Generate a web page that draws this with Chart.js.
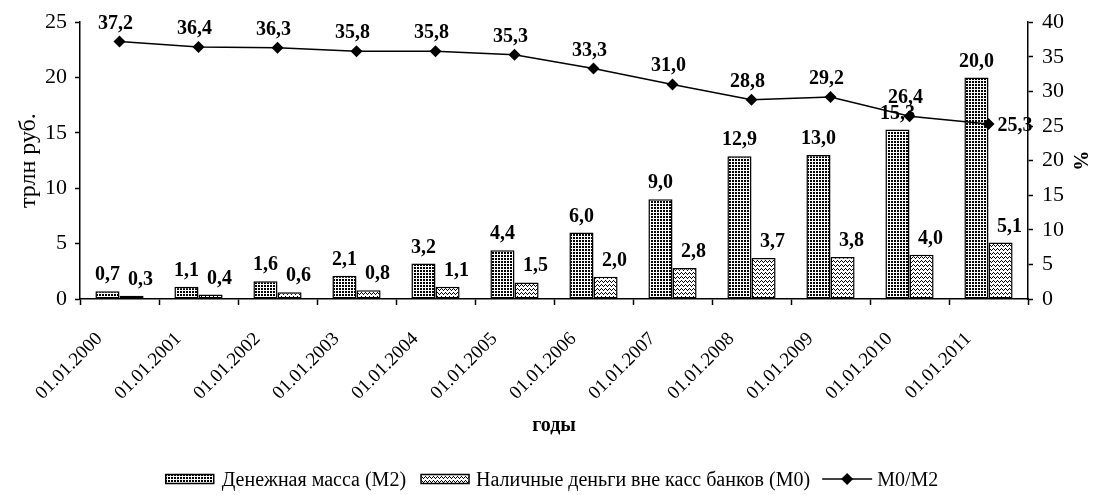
<!DOCTYPE html>
<html lang="ru">
<head>
<meta charset="utf-8">
<title>Денежная масса</title>
<script src="https://cdn.jsdelivr.net/npm/chart.js@4/dist/chart.umd.min.js"></script>
<style>
  html, body { margin: 0; padding: 0; background: #fff; }
  #wrap { width: 1095px; height: 495px; }
</style>
</head>
<body>
<div id="wrap"><canvas id="moneyChart" width="1095" height="495"></canvas></div>
<script>
// data
const years = [
  "01.01.2000", "01.01.2001", "01.01.2002", "01.01.2003",
  "01.01.2004", "01.01.2005", "01.01.2006", "01.01.2007",
  "01.01.2008", "01.01.2009", "01.01.2010", "01.01.2011",
];
const m2 = [0.7, 1.1, 1.6, 2.1, 3.2, 4.4, 6.0, 9.0, 12.9, 13.0, 15.3, 20.0];
const m0 = [0.3, 0.4, 0.6, 0.8, 1.1, 1.5, 2.0, 2.8, 3.7, 3.8, 4.0, 5.1];
const m0Share = [37.2, 36.4, 36.3, 35.8, 35.8, 35.3, 33.3, 31.0, 28.8, 29.2, 26.4, 25.3];
const leftTicks = [0, 5, 10, 15, 20, 25];
const rightTicks = [0, 5, 10, 15, 20, 25, 30, 35, 40];

const seriesNames = ["Денежная масса (M2)", "Наличные деньги вне касс банков (M0)", "M0/M2"];

const SERIF = '"Liberation Serif", "Times New Roman", serif';
Chart.defaults.font.family = SERIF;
Chart.defaults.color = "#000";

const canvas = document.getElementById("moneyChart");
const ctx = canvas.getContext("2d");

// hatch fills for the two bar series
function makePattern(w, h, pixels) {
  const c = document.createElement("canvas");
  c.width = w;
  c.height = h;
  const g = c.getContext("2d");
  g.fillStyle = "#fff";
  g.fillRect(0, 0, w, h);
  g.fillStyle = "#000";
  pixels.forEach(([x, y]) => g.fillRect(x, y, 1, 1));
  return ctx.createPattern(c, "repeat");
}
const dotsFill = makePattern(3, 3, [[0, 0], [1, 0], [0, 1], [1, 1]]);
const waveFill = makePattern(4, 4, [[0, 1], [1, 0], [2, 1], [3, 2]]);

const fmt = (v) => v.toFixed(1).replace(".", ",");

// value labels above bars and points
const valueLabels = {
  id: "valueLabels",
  afterDatasetsDraw(chart) {
    const c = chart.ctx;
    c.save();
    c.font = "bold 20px " + SERIF;
    c.fillStyle = "#000";
    c.textBaseline = "alphabetic";
    chart.data.datasets.forEach((ds, i) => {
      const meta = chart.getDatasetMeta(i);
      meta.data.forEach((el, j) => {
        const t = fmt(ds.data[j]);
        if (ds.type === "line") {
          if (j === ds.data.length - 1) {
            c.textAlign = "left";
            c.fillText(t, el.x + 9, el.y + 7);
          } else {
            c.textAlign = "center";
            c.fillText(t, el.x - 4, el.y - 13);
          }
        } else {
          c.textAlign = "center";
          const dx = i === 1 ? 9 : 0;
          c.fillText(t, el.x + dx, el.y - 11);
        }
      });
    });
    c.restore();
  },
};

// legend row under the chart
const bottomLegend = {
  id: "bottomLegend",
  afterDraw(chart) {
    const c = chart.ctx;
    c.save();
    c.font = "20px " + SERIF;
    c.fillStyle = "#000";
    c.textBaseline = "alphabetic";
    c.textAlign = "left";
    const boxW = 48, lineW = 50;
    const widths = seriesNames.map((s) => c.measureText(s).width);
    const total = boxW + 8 + widths[0] + 15 + boxW + 7 + widths[1] + 12 + lineW + 5 + widths[2];
    let x = 552 - total / 2;
    const yMid = 479, yBase = 486;
    [dotsFill, waveFill].forEach((fill, k) => {
      c.fillStyle = fill;
      c.fillRect(x, yMid - 4.5, boxW, 9);
      c.strokeStyle = "#000";
      c.lineWidth = 1.5;
      c.strokeRect(x, yMid - 4.5, boxW, 9);
      x += boxW + (k === 0 ? 8 : 7);
      c.fillStyle = "#000";
      c.fillText(seriesNames[k], x, yBase);
      x += widths[k] + (k === 0 ? 15 : 12);
    });
    c.beginPath();
    c.moveTo(x, yMid);
    c.lineTo(x + lineW, yMid);
    c.lineWidth = 1.5;
    c.stroke();
    const cx = x + lineW / 2;
    c.beginPath();
    c.moveTo(cx - 6, yMid);
    c.lineTo(cx, yMid - 6);
    c.lineTo(cx + 6, yMid);
    c.lineTo(cx, yMid + 6);
    c.closePath();
    c.fill();
    x += lineW + 5;
    c.fillText(seriesNames[2], x, yBase);
    c.restore();
  },
};

new Chart(canvas, {
  data: {
    labels: years,
    datasets: [
      {
        type: "bar",
        label: seriesNames[0],
        data: m2,
        backgroundColor: dotsFill,
        borderColor: "#000",
        borderWidth: 1.5,
        borderSkipped: false,
        barPercentage: 1,
        categoryPercentage: 0.61,
        yAxisID: "y",
        order: 1,
      },
      {
        type: "bar",
        label: seriesNames[1],
        data: m0,
        backgroundColor: waveFill,
        borderColor: "#000",
        borderWidth: 1.5,
        borderSkipped: false,
        barPercentage: 1,
        categoryPercentage: 0.61,
        yAxisID: "y",
        order: 1,
      },
      {
        type: "line",
        label: seriesNames[2],
        data: m0Share,
        borderColor: "#000",
        borderWidth: 1.5,
        backgroundColor: "#000",
        pointStyle: "rectRot",
        pointRadius: 6,
        pointBorderWidth: 0,
        tension: 0,
        yAxisID: "y1",
        order: 0,
      },
    ],
  },
  options: {
    responsive: false,
    animation: false,
    layout: { padding: { top: 16, right: 0, bottom: 0, left: 0 } },
    plugins: {
      legend: { display: false },
      tooltip: { enabled: false },
    },
    scales: {
      x: {
        offset: true,
        grid: { offset: true, drawOnChartArea: false, color: "#000", tickLength: 6, tickWidth: 1.5 },
        border: { color: "#000", width: 1.5 },
        ticks: {
          autoSkip: false,
          minRotation: 45,
          maxRotation: 45,
          font: { size: 19 },
          padding: 23,
          labelOffset: -20,
        },
        title: {
          display: true,
          text: "годы",
          font: { size: 20, weight: "bold" },
          padding: { top: 0, bottom: 57 },
        },
        afterFit: (s) => { s.height = 196; },
      },
      y: {
        position: "left",
        min: 0,
        max: 25,
        afterBuildTicks: (s) => { s.ticks = leftTicks.map((v) => ({ value: v })); },
        grid: { drawOnChartArea: false, color: "#000", tickLength: 5, tickWidth: 1.5 },
        border: { color: "#000", width: 1.5 },
        ticks: { font: { size: 22 }, padding: 8 },
        title: {
          display: true,
          text: "трлн руб.",
          font: { size: 24 },
          padding: { top: 14, bottom: 0 },
        },
        afterFit: (s) => { s.width = 80; },
      },
      y1: {
        position: "right",
        min: 0,
        max: 40,
        afterBuildTicks: (s) => { s.ticks = rightTicks.map((v) => ({ value: v })); },
        grid: { drawOnChartArea: false, color: "#000", tickLength: 5, tickWidth: 1.5 },
        border: { color: "#000", width: 1.5 },
        ticks: { font: { size: 22 }, padding: 9 },
        title: {
          display: true,
          text: "%",
          font: { size: 20, weight: "bold" },
          padding: { top: 4, bottom: 0 },
        },
        afterFit: (s) => { s.width = 67; },
      },
    },
  },
  plugins: [valueLabels, bottomLegend],
});
</script>
</body>
</html>
